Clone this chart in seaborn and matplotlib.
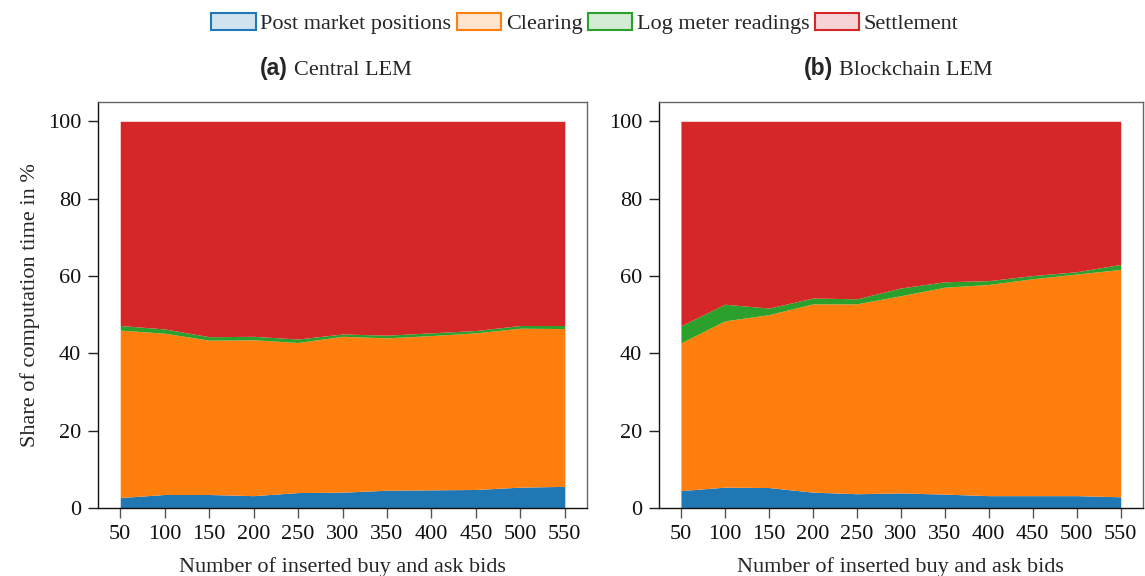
import matplotlib
matplotlib.use("Agg")
import matplotlib.pyplot as plt
from matplotlib.patches import Patch
import seaborn as sns

# Number of inserted bids (x axis)
bids = [50, 100, 150, 200, 250, 300, 350, 400, 450, 500, 550]

# Share of computation time in % per phase — Central LEM
central_post = [2.7, 3.5, 3.5, 3.2, 4.0, 4.1, 4.6, 4.7, 4.8, 5.4, 5.6]
central_clearing = [43.3, 41.7, 39.9, 40.3, 38.8, 40.3, 39.4, 39.9, 40.5, 41.1, 40.8]
central_log = [1.2, 1.1, 0.9, 0.9, 0.9, 0.6, 0.7, 0.7, 0.6, 0.7, 0.8]
central_settlement = [52.8, 53.7, 55.7, 55.6, 56.3, 55.0, 55.3, 54.7, 54.1, 52.8, 52.8]

# Share of computation time in % per phase — Blockchain LEM
chain_post = [4.5, 5.4, 5.3, 4.1, 3.7, 3.9, 3.6, 3.2, 3.2, 3.2, 2.9]
chain_clearing = [38.2, 43.0, 44.7, 48.7, 49.1, 51.0, 53.5, 54.6, 56.1, 57.3, 58.8]
chain_log = [4.4, 4.3, 1.7, 1.5, 1.3, 2.0, 1.4, 1.0, 0.8, 0.6, 1.3]
chain_settlement = [52.9, 47.3, 48.3, 45.7, 45.9, 43.1, 41.5, 41.2, 39.9, 38.9, 37.0]

phases = ["Post market positions", "Clearing", "Log meter readings", "Settlement"]
panel_tags = ["(a)", "(b)"]
panel_names = ["Central LEM", "Blockchain LEM"]
x_label = "Number of inserted buy and ask bids"
y_label = "Share of computation time in %"

sns.set_style("ticks")
plt.rcParams["font.family"] = ["Liberation Serif", "DejaVu Serif"]

colors = sns.color_palette("tab10", 4)
FS = 16

fig = plt.figure(figsize=(11.45, 5.76), dpi=100)
ax_a = fig.add_axes([0.0856, 0.118, 0.4271, 0.705])
ax_b = fig.add_axes([0.5755, 0.118, 0.4225, 0.705])

panels = [
    (ax_a, [central_post, central_clearing, central_log, central_settlement], 0.389),
    (ax_b, [chain_post, chain_clearing, chain_log, chain_settlement], 0.360),
]

for i, (ax, series, tag_x) in enumerate(panels):
    ax.stackplot(bids, *series, colors=colors, linewidth=0)
    ax.set_xlim(25, 575)
    ax.set_ylim(0, 105)
    ax.set_xticks(bids)
    ax.set_yticks([0, 20, 40, 60, 80, 100])
    ax.tick_params(axis="both", direction="out", length=7, width=1,
                   labelsize=FS, colors="#222222", pad=5)
    ax.tick_params(axis="x", colors="#555555", labelcolor="#111111")
    ax.tick_params(axis="y", labelcolor="#111111")
    for side in ("left", "bottom"):
        ax.spines[side].set_color("#111111")
        ax.spines[side].set_linewidth(1.0)
    for side in ("top", "right"):
        ax.spines[side].set_color("#666666")
        ax.spines[side].set_linewidth(1.0)
    ax.set_xlabel(x_label, fontsize=FS, labelpad=10)

    # Panel title: bold sans tag followed by serif name
    tag = ax.text(tag_x, 1.067, panel_tags[i], transform=ax.transAxes,
                  ha="right", va="baseline", fontsize=FS + 0.5,
                  fontweight="bold", family=["Liberation Sans", "DejaVu Sans"])
    ax.annotate(panel_names[i], xy=(1, 0), xycoords=tag,
                xytext=(4, 0), textcoords="offset points",
                ha="left", va="bottom", fontsize=FS)

ax_a.set_ylabel(y_label, fontsize=FS, labelpad=6)

handles = [Patch(facecolor=(*c, 0.2), edgecolor=c, linewidth=1.5) for c in colors]
fig.legend(handles, phases, loc="upper center", bbox_to_anchor=(0.511, 1.012),
           ncol=4, frameon=False, fontsize=FS, handlelength=2.0,
           handleheight=0.8, handletextpad=0.2, columnspacing=0.25)

fig.savefig("out.png", dpi=100)
